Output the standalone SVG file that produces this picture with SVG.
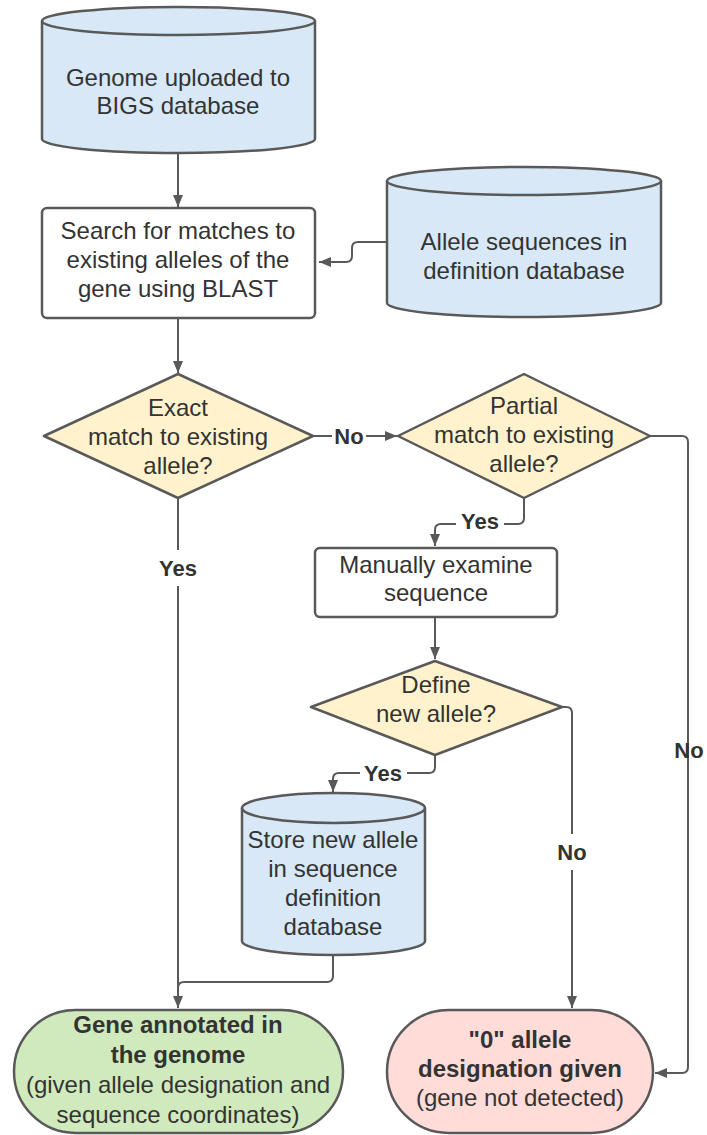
<svg xmlns="http://www.w3.org/2000/svg" width="707" height="1135" viewBox="0 0 707 1135">
<defs>
<marker id="arr" viewBox="0 0 12 10" refX="12" refY="5" markerWidth="12" markerHeight="10" markerUnits="userSpaceOnUse" orient="auto">
<path d="M0,0 L12,5 L0,10 z" fill="#595959"/>
</marker>
</defs>
<style>
.sh{stroke:#595959;stroke-width:2.5}
.db{fill:#d8e8f6}
.dec{fill:#fff2cc}
.box{fill:#ffffff}
.ok{fill:#d0eabd}
.no{fill:#ffdcd8}
.c{fill:none;stroke:#595959;stroke-width:2}
text{font-family:"Liberation Sans",Arial,sans-serif;font-size:24px;fill:#333333;text-anchor:middle}
.b{font-weight:bold}
.lbl{font-weight:bold;font-size:22px}
</style>
<rect width="707" height="1135" fill="#ffffff"/>

<g id="connectors">
<path class="c" d="M178,154 V207" marker-end="url(#arr)"/>
<path class="c" d="M387,242 H358 Q352,242 352,248 V256 Q352,262 346,262 H319" marker-end="url(#arr)"/>
<path class="c" d="M178,318 V373" marker-end="url(#arr)"/>
<path class="c" d="M313,436 H332 M366,436 H397" marker-end="url(#arr)"/>
<path class="c" d="M650,436 H682 Q688,436 688,442 V1067 Q688,1073 682,1073 H655" marker-end="url(#arr)"/>
<path class="c" d="M524,498 V518 Q524,524 518,524 H504 M456,524 H441 Q435,524 435,530 V546" marker-end="url(#arr)"/>
<path class="c" d="M435,617 V659" marker-end="url(#arr)"/>
<path class="c" d="M435,755 V767 Q435,773 429,773 H407 M360,773 H339 Q333,773 333,779 V792" marker-end="url(#arr)"/>
<path class="c" d="M562,707 H566 Q572,707 572,713 V834 M572,870 V1008" marker-end="url(#arr)"/>
<path class="c" d="M178,498 V550 M178,586 V1008" marker-end="url(#arr)"/>
<path class="c" d="M333,956 V976 Q333,982 327,982 H184 Q178,982 178,988"/>
<text class="lbl" x="349" y="444">No</text>
<text class="lbl" x="480" y="529">Yes</text>
<text class="lbl" x="383" y="781">Yes</text>
<text class="lbl" x="178" y="576">Yes</text>
<text class="lbl" x="572" y="860">No</text>
<text class="lbl" x="689" y="758">No</text>
</g>

<g id="genome">
<path class="sh db" d="M42,21 V139 A136.5,14 0 0 0 315,139 V21 A136.5,14 0 0 0 42,21 Z"/>
<path class="sh" fill="none" d="M42,21 A136.5,14 0 0 0 315,21"/>
<text x="178" y="86">Genome uploaded to</text>
<text x="178" y="114">BIGS database</text>
</g>

<g id="search">
<rect class="sh box" x="42" y="208" width="273" height="110" rx="5"/>
<text x="178" y="239">Search for matches to</text>
<text x="178" y="268">existing alleles of the</text>
<text x="178" y="297">gene using BLAST</text>
</g>

<g id="alleledb">
<path class="sh db" d="M387,181 V303 A137,14 0 0 0 661,303 V181 A137,14 0 0 0 387,181 Z"/>
<path class="sh" fill="none" d="M387,181 A137,14 0 0 0 661,181"/>
<text x="524" y="250">Allele sequences in</text>
<text x="524" y="279">definition database</text>
</g>

<g id="exact">
<polygon class="sh dec" points="178,374 313,436 178,498 44,436" stroke-linejoin="round"/>
<text x="178" y="416">Exact</text>
<text x="178" y="445">match to existing</text>
<text x="178" y="474">allele?</text>
</g>

<g id="partial">
<polygon class="sh dec" points="524,374 650,436 524,498 398,436" stroke-linejoin="round"/>
<text x="524" y="414">Partial</text>
<text x="524" y="443">match to existing</text>
<text x="524" y="472">allele?</text>
</g>

<g id="manual">
<rect class="sh box" x="315" y="548" width="242" height="69" rx="5"/>
<text x="436" y="573">Manually examine</text>
<text x="436" y="601">sequence</text>
</g>

<g id="define">
<polygon class="sh dec" points="435,661 562,707 435,755 311,707" stroke-linejoin="round"/>
<text x="436" y="693">Define</text>
<text x="436" y="722">new allele?</text>
</g>

<g id="store">
<path class="sh db" d="M242,808 V941 A91.5,14 0 0 0 425,941 V808 A91.5,15 0 0 0 242,808 Z"/>
<path class="sh" fill="none" d="M242,808 A91.5,15 0 0 0 425,808"/>
<text x="333" y="848">Store new allele</text>
<text x="333" y="877">in sequence</text>
<text x="333" y="906">definition</text>
<text x="333" y="935">database</text>
</g>

<g id="annotated">
<rect class="sh ok" x="14" y="1010" width="329" height="123" rx="61.5"/>
<text class="b" x="178" y="1033">Gene annotated in</text>
<text class="b" x="178" y="1063">the genome</text>
<text x="178" y="1093">(given allele designation and</text>
<text x="178" y="1123">sequence coordinates)</text>
</g>

<g id="zero">
<rect class="sh no" x="387" y="1010" width="266" height="123" rx="61.5"/>
<text class="b" x="520" y="1048">"0" allele</text>
<text class="b" x="520" y="1077">designation given</text>
<text x="520" y="1106">(gene not detected)</text>
</g>
</svg>
